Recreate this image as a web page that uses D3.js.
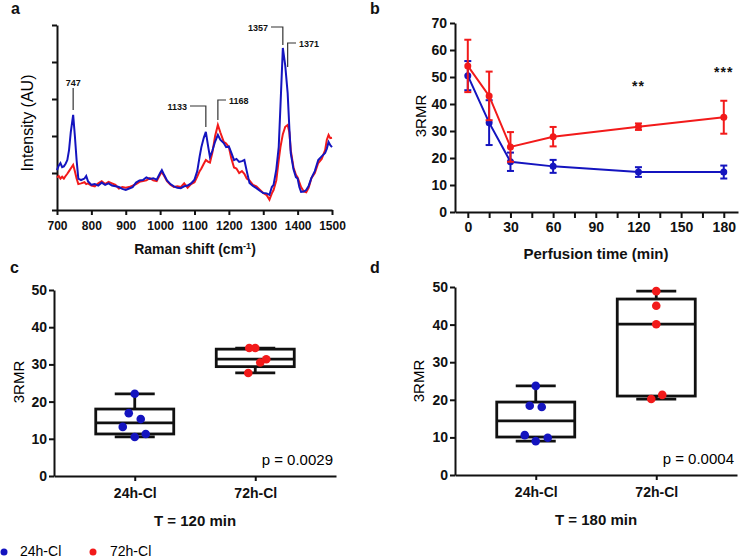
<!DOCTYPE html>
<html>
<head>
<meta charset="utf-8">
<script src="https://cdn.jsdelivr.net/npm/d3@7/dist/d3.min.js"></script>
<style>
  body { margin: 0; background: #fff; }
  text { font-family: "Liberation Sans", Arial, sans-serif; fill: #111; }
</style>
</head>
<body>
<div id="figure"></div>
<script>
// ---- data ----

// panel a: Raman spectra (AU, axis spans 0-5 ticks)
var ramanShift = [700, 705, 710, 715, 720, 725, 730, 735, 740, 747, 752, 757, 762, 770, 780, 785, 790,
  800, 810, 820, 830, 840, 850, 860, 870, 880, 890, 900, 910, 920, 930, 940, 950, 960, 970, 980, 990,
  1000, 1005, 1010, 1020, 1030, 1040, 1050, 1060, 1070, 1080, 1090, 1100, 1108, 1115, 1120, 1127, 1133,
  1140, 1145, 1152, 1160, 1168, 1175, 1185, 1192, 1200, 1207, 1215, 1222, 1230, 1238, 1245, 1252, 1260,
  1270, 1280, 1290, 1300, 1310, 1318, 1325, 1330, 1338, 1345, 1350, 1357, 1364, 1371, 1376, 1380, 1388,
  1395, 1400, 1405, 1410, 1418, 1425, 1432, 1440, 1450, 1460, 1470, 1480, 1485, 1490, 1495, 1500];
var spectrum24h = [1.08, 1.20, 1.27, 1.16, 1.18, 1.25, 1.35, 1.62, 2.10, 2.57, 2.00, 1.35, 0.85, 0.81, 0.85, 0.92, 0.78,
  0.68, 0.70, 0.66, 0.74, 0.68, 0.72, 0.66, 0.64, 0.62, 0.57, 0.54, 0.58, 0.62, 0.74, 0.80, 0.81, 0.88, 0.84, 0.86, 0.82,
  1.00, 1.08, 0.98, 0.80, 0.70, 0.64, 0.60, 0.59, 0.64, 0.66, 0.72, 0.82, 1.05, 1.45, 1.70, 1.95, 2.11,
  1.70, 1.43, 1.60, 1.85, 2.03, 1.90, 1.81, 1.70, 1.72, 1.55, 1.35, 1.38, 1.30, 1.32, 1.35, 1.05, 0.73,
  0.65, 0.59, 0.52, 0.46, 0.45, 0.41, 0.62, 0.68, 1.10, 1.70, 2.80, 4.38, 3.90, 3.16, 2.20, 1.54, 1.10,
  0.89, 0.85, 0.62, 0.49, 0.50, 0.54, 0.65, 0.86, 1.05, 1.35, 1.45, 1.54, 1.66, 1.84, 1.75, 1.70];
var spectrum72h = [0.88, 0.92, 0.85, 0.90, 0.85, 0.92, 0.98, 1.05, 1.12, 1.22, 1.05, 0.85, 0.70, 0.72, 0.75, 0.70, 0.72,
  0.66, 0.64, 0.72, 0.78, 0.70, 0.76, 0.72, 0.68, 0.58, 0.62, 0.60, 0.62, 0.66, 0.70, 0.76, 0.78, 0.80, 0.86, 0.80, 0.78,
  0.96, 1.02, 0.95, 0.78, 0.68, 0.62, 0.64, 0.62, 0.72, 0.60, 0.70, 0.75, 0.90, 1.05, 1.12, 1.25, 1.35,
  1.30, 1.28, 1.55, 2.00, 2.30, 2.10, 1.84, 1.80, 1.70, 1.40, 1.15, 1.12, 1.00, 1.05, 0.98, 0.85, 0.80,
  0.68, 0.64, 0.55, 0.46, 0.40, 0.28, 0.45, 0.54, 0.80, 1.35, 1.70, 2.05, 2.25, 2.30, 2.10, 1.62, 1.15,
  0.95, 0.88, 0.75, 0.62, 0.50, 0.48, 0.60, 0.86, 1.00, 1.27, 1.38, 1.62, 1.90, 2.03, 1.94, 1.95];
var peaks = [747, 1133, 1168, 1357, 1371];

// panel b: 3RMR vs perfusion time (mean, error)
var perfusionTime = [0, 15, 30, 60, 120, 180];
var rmr24hMean = [50.5, 33.1, 18.6, 16.9, 14.8, 14.8];
var rmr24hErr = [5.4, 8.3, 3.4, 2.4, 1.8, 2.4];
var rmr72hMean = [54.1, 43.0, 24.1, 27.9, 31.6, 35.1];
var rmr72hErr = [9.7, 9.0, 5.5, 3.6, 1.2, 6.1];
var starTimes = [120, 180];
var starLabels = ["**", "***"];
var starLevels = [44.8, 50.0];

// panels c, d: box plots
var groups = ["24h-Cl", "72h-Cl"];
var min120 = [10.5, 27.7];
var q1_120 = [11.3, 29.4];
var median120 = [14.3, 31.4];
var q3_120 = [18.0, 34.1];
var max120 = [22.1, 34.4];
var points120_24h = [22.1, 16.9, 15.3, 13.2, 10.5, 11.3];
var points120_72h = [34.4, 34.4, 31.4, 30.5, 27.7];
var pValue120 = "p = 0.0029";

var min180 = [9.0, 20.2];
var q1_180 = [10.1, 21.0];
var median180 = [14.4, 40.1];
var q3_180 = [19.4, 46.8];
var max180 = [23.7, 48.9];
var points180_24h = [23.7, 18.4, 18.1, 10.6, 9.9, 9.0];
var points180_72h = [48.9, 45.0, 40.1, 21.3, 20.2];
var pValue180 = "p = 0.0004";

var blue = "#1414bf";
var red = "#f21a1a";

// ---- svg ----
var svg = d3.select("#figure")
    .append("svg")
    .attr("width", 740)
    .attr("height", 560);

function styleAxis(g, size) {
    g.select(".domain").attr("stroke", "#111").attr("stroke-width", 2);
    g.selectAll(".tick line").attr("stroke", "#111").attr("stroke-width", 2);
    g.selectAll(".tick text")
        .attr("fill", "#111")
        .style("font-family", "Liberation Sans, Arial, sans-serif")
        .style("font-weight", "bold")
        .style("font-size", size + "px");
}

function panelLetter(x, y, s) {
    svg.append("text")
        .attr("x", x).attr("y", y)
        .style("font-size", "16px").style("font-weight", "bold")
        .text(s);
}

// ================= panel a =================
var xA = d3.scaleLinear().domain([700, 1500]).range([57, 332]);
var yA = d3.scaleLinear().domain([0, 5]).range([210, 25]);

svg.append("g")
    .attr("transform", "translate(0,210)")
    .call(d3.axisBottom(xA).tickValues(d3.range(700, 1501, 100)).tickFormat(d3.format("d"))
        .tickSize(5).tickSizeOuter(0).tickPadding(6))
    .call(styleAxis, 12);

svg.append("g")
    .attr("transform", "translate(57,0)")
    .call(d3.axisLeft(yA).ticks(5).tickSize(5).tickSizeOuter(0).tickFormat(""))
    .call(styleAxis, 12);

var spectrumLine = d3.line()
    .x((d, i) => xA(ramanShift[i]))
    .y(d => yA(d));

svg.append("path").datum(spectrum72h)
    .attr("d", spectrumLine)
    .attr("fill", "none").attr("stroke", red).attr("stroke-width", 2);
svg.append("path").datum(spectrum24h)
    .attr("d", spectrumLine)
    .attr("fill", "none").attr("stroke", blue).attr("stroke-width", 2);

// peak brackets: [bottom y, top y, horizontal end x, text x, text y, anchor]
var bracket = {
    747: [110, 88, null, 0, 86, "middle"],
    1133: [127, 106, 190, 187, 109.5, "end"],
    1168: [120, 100, 226, 229, 103.5, "start"],
    1357: [45, 27, 271, 268, 30.5, "end"],
    1371: [67, 43, 296, 299, 46.5, "start"]
};
peaks.forEach(function(p) {
    var b = bracket[p];
    var px = xA(p);
    var path = "M" + px + "," + b[0] + "V" + b[1];
    if (b[2] !== null) path += "H" + b[2];
    svg.append("path").attr("d", path)
        .attr("fill", "none").attr("stroke", "#333").attr("stroke-width", 1.2);
    svg.append("text")
        .attr("x", b[2] === null ? px : b[3])
        .attr("y", b[4])
        .attr("text-anchor", b[5])
        .style("font-size", "9px").style("font-weight", "bold")
        .text(p);
});

svg.append("text")
    .attr("transform", "translate(33,123) rotate(-90)")
    .attr("text-anchor", "middle")
    .style("font-size", "16px").style("fill", "#000")
    .text("Intensity (AU)");

var ramanTitle = svg.append("text")
    .attr("x", 195).attr("y", 254)
    .attr("text-anchor", "middle")
    .style("font-size", "14px").style("font-weight", "bold");
ramanTitle.append("tspan").text("Raman shift (cm");
ramanTitle.append("tspan").attr("dy", -5).style("font-size", "9px").text("-1");
ramanTitle.append("tspan").attr("dy", 5).text(")");

panelLetter(11, 14, "a");

// ================= panel b =================
var xB = d3.scaleLinear().domain([-9, 190]).range([455, 738]);
var yB = d3.scaleLinear().domain([0, 70]).range([212, 23]);

svg.append("g")
    .attr("transform", "translate(0,212)")
    .call(d3.axisBottom(xB).tickValues(d3.range(0, 181, 15))
        .tickFormat(d => d % 30 === 0 ? d : "").tickSize(6).tickSizeOuter(0).tickPadding(4))
    .call(styleAxis, 14);

svg.append("g")
    .attr("transform", "translate(455,0)")
    .call(d3.axisLeft(yB).tickValues(d3.range(0, 71, 10)).tickSize(5).tickSizeOuter(0).tickPadding(3))
    .call(styleAxis, 14);

function drawSeries(means, errs, color) {
    var line = d3.line()
        .x((d, i) => xB(perfusionTime[i]))
        .y(d => yB(d));
    svg.append("path").datum(means)
        .attr("d", line)
        .attr("fill", "none").attr("stroke", color).attr("stroke-width", 2);
    var bars = svg.append("g")
        .attr("stroke", color).attr("stroke-width", 2);
    means.forEach(function(m, i) {
        var x = xB(perfusionTime[i]);
        var top = yB(m + errs[i]), bottom = yB(m - errs[i]);
        bars.append("line").attr("x1", x).attr("x2", x).attr("y1", top).attr("y2", bottom);
        bars.append("line").attr("x1", x - 3.5).attr("x2", x + 3.5).attr("y1", top).attr("y2", top);
        bars.append("line").attr("x1", x - 3.5).attr("x2", x + 3.5).attr("y1", bottom).attr("y2", bottom);
    });
    svg.append("g").selectAll("circle")
        .data(means)
        .enter()
        .append("circle")
        .attr("cx", (d, i) => xB(perfusionTime[i]))
        .attr("cy", d => yB(d))
        .attr("r", 3.5)
        .attr("fill", color);
}
drawSeries(rmr24hMean, rmr24hErr, blue);
drawSeries(rmr72hMean, rmr72hErr, red);

starTimes.forEach(function(t, i) {
    svg.append("text")
        .attr("x", xB(t)).attr("y", yB(starLevels[i]))
        .attr("text-anchor", "middle")
        .style("font-size", "14px").style("font-weight", "bold")
        .style("letter-spacing", "1px")
        .text(starLabels[i]);
});

svg.append("text")
    .attr("transform", "translate(426,116) rotate(-90)")
    .attr("text-anchor", "middle")
    .style("font-size", "15px").style("fill", "#000")
    .text("3RMR");

svg.append("text")
    .attr("x", 596).attr("y", 259)
    .attr("text-anchor", "middle")
    .style("font-size", "15px").style("font-weight", "bold")
    .text("Perfusion time (min)");

panelLetter(370, 14, "b");

// ================= panels c, d =================
function drawBoxPanel(cfg) {
    var x = d3.scalePoint().domain(groups).range([cfg.left, cfg.right]).padding(0.67);
    var y = d3.scaleLinear().domain([0, 50]).range([cfg.bottom, cfg.top]);
    var boxW = 78, capW = 40;

    svg.append("g")
        .attr("transform", "translate(0," + cfg.bottom + ")")
        .call(d3.axisBottom(x).tickSize(5).tickSizeOuter(0).tickPadding(7))
        .call(styleAxis, 14);
    svg.append("g")
        .attr("transform", "translate(" + cfg.left + ",0)")
        .call(d3.axisLeft(y).tickValues(d3.range(0, 51, 10)).tickSize(5).tickSizeOuter(0).tickPadding(2))
        .call(styleAxis, 14);

    var boxes = svg.append("g")
        .attr("fill", "none").attr("stroke", "#111").attr("stroke-width", 2.8);
    groups.forEach(function(g, i) {
        var cx = x(g);
        boxes.append("rect")
            .attr("x", cx - boxW / 2).attr("width", boxW)
            .attr("y", y(cfg.q3[i])).attr("height", y(cfg.q1[i]) - y(cfg.q3[i]))
            .attr("fill", "#fff");
        boxes.append("line").attr("x1", cx - boxW / 2).attr("x2", cx + boxW / 2)
            .attr("y1", y(cfg.median[i])).attr("y2", y(cfg.median[i]));
        boxes.append("line").attr("x1", cx).attr("x2", cx)
            .attr("y1", y(cfg.q3[i])).attr("y2", y(cfg.max[i]));
        boxes.append("line").attr("x1", cx).attr("x2", cx)
            .attr("y1", y(cfg.q1[i])).attr("y2", y(cfg.min[i]));
        boxes.append("line").attr("x1", cx - capW / 2).attr("x2", cx + capW / 2)
            .attr("y1", y(cfg.max[i])).attr("y2", y(cfg.max[i]));
        boxes.append("line").attr("x1", cx - capW / 2).attr("x2", cx + capW / 2)
            .attr("y1", y(cfg.min[i])).attr("y2", y(cfg.min[i]));
    });

    [[cfg.pts24, cfg.jit24, blue], [cfg.pts72, cfg.jit72, red]].forEach(function(s, i) {
        svg.append("g").selectAll("circle")
            .data(s[0])
            .enter()
            .append("circle")
            .attr("cx", (d, j) => x(groups[i]) + s[1][j])
            .attr("cy", d => y(d))
            .attr("r", 4.3)
            .attr("fill", s[2]);
    });

    svg.append("text")
        .attr("x", cfg.right - 3).attr("y", cfg.bottom - 11)
        .attr("text-anchor", "end")
        .style("font-size", "15px").style("fill", "#000")
        .text(cfg.p);
    svg.append("text")
        .attr("transform", "translate(" + cfg.yTitleX + "," + (cfg.bottom - 94) + ") rotate(-90)")
        .attr("text-anchor", "middle")
        .style("font-size", "15px").style("fill", "#000")
        .text("3RMR");
    svg.append("text")
        .attr("x", (x(groups[0]) + x(groups[1])) / 2).attr("y", cfg.bottom + 50)
        .attr("text-anchor", "middle")
        .style("font-size", "15px").style("font-weight", "bold")
        .text(cfg.title);
}

drawBoxPanel({
    left: 54, right: 336, top: 290, bottom: 476, yTitleX: 24,
    min: min120, q1: q1_120, median: median120, q3: q3_120, max: max120,
    pts24: points120_24h, pts72: points120_72h,
    jit24: [0, -6, 6, -12, 0, 11], jit72: [-6, 0, 11, 5, -7],
    p: pValue120, title: "T = 120 min"
});
drawBoxPanel({
    left: 455, right: 737, top: 287, bottom: 475, yTitleX: 424,
    min: min180, q1: q1_180, median: median180, q3: q3_180, max: max180,
    pts24: points180_24h, pts72: points180_72h,
    jit24: [0, -6, 6, -11, 12, 0], jit72: [0, 0, 0, 6, -5],
    p: pValue180, title: "T = 180 min"
});

panelLetter(10, 273, "c");
panelLetter(370, 273, "d");

// ---- legend ----
var legend = svg.append("g");
[["24h-Cl", blue, 4, 20], ["72h-Cl", red, 93, 110]].forEach(function(l) {
    legend.append("circle").attr("cx", l[2]).attr("cy", 552).attr("r", 3.5).attr("fill", l[1]);
    legend.append("text").attr("x", l[3]).attr("y", 556)
        .style("font-size", "14px").style("fill", "#000").text(l[0]);
});
</script>
</body>
</html>
